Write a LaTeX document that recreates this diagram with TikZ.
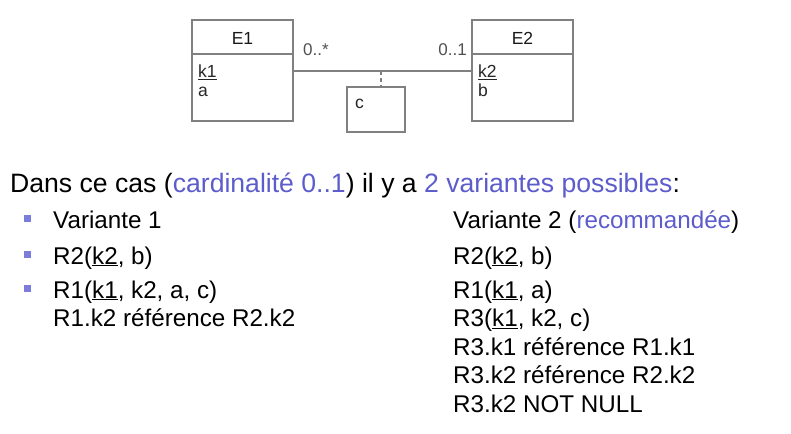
\documentclass[tikz,border=0pt]{standalone}
\usepackage{fontspec}
\setmainfont{Liberation Sans}
\definecolor{accent}{RGB}{92,92,204}
\definecolor{bulletc}{RGB}{124,124,218}
\definecolor{umlgray}{RGB}{128,128,128}
\definecolor{labgray}{RGB}{80,80,80}
\begin{document}
\begin{tikzpicture}[x=1pt,y=-1pt,
  umlbox/.style={draw=umlgray,line width=2pt,rectangle,inner sep=0pt},
  umltxt/.style={inner sep=0pt,anchor=base west,font=\fontsize{17.5}{20}\selectfont,text=black!85},
  cardtxt/.style={inner sep=0pt,font=\fontsize{17}{20}\selectfont,text=labgray},
  bigtxt/.style={inner sep=0pt,anchor=base west,font=\fontsize{26.6}{30}\selectfont},
  itemtxt/.style={inner sep=0pt,anchor=base west,font=\fontsize{24.2}{28}\selectfont},
  bulletsq/.style={fill=bulletc,inner sep=0pt,minimum size=7pt,rectangle}]
\useasboundingbox (0,0) rectangle (791,433);
% --- UML diagram ---
\node[umlbox,minimum width=101pt,minimum height=101pt] (E1) at (242.5,70.5) {};
\node[umlbox,minimum width=101pt,minimum height=101pt] (E2) at (522.5,70.5) {};
\node[umlbox,minimum width=58pt,minimum height=45pt] (C) at (376,109.5) {};
\draw[umlgray,line width=2pt] (E1.west |- 0,54) -- (E1.east |- 0,54);
\draw[umlgray,line width=2pt] (E2.west |- 0,54) -- (E2.east |- 0,54);
\node[inner sep=0pt,anchor=base,font=\fontsize{17.5}{20}\selectfont,text=black!90] (E1t) at (242.5,44.5) {E1};
\node[inner sep=0pt,anchor=base,font=\fontsize{17.5}{20}\selectfont,text=black!90] (E2t) at (522.5,44.5) {E2};
\node[umltxt] (k1) at (198,78) {\underline{k1}};
\node[umltxt] (a) at (198,96) {a};
\node[umltxt] (k2) at (478,78) {\underline{k2}};
\node[umltxt] (b) at (478,96) {b};
\node[umltxt] (c) at (355,109) {c};
\coordinate (mid) at (381,71);
\draw[umlgray,line width=2pt] (E1.east |- mid) -- (E2.west |- mid);
\draw[umlgray,line width=1.5pt,dash pattern=on 4pt off 3pt] (mid) -- (mid |- C.north);
\node[cardtxt,anchor=base west] (m1) at (303,56) {0..*};
\node[cardtxt,anchor=base east] (m2) at (467,56) {0..1};
% --- text ---
\node[bigtxt] (intro) at (10,192) {Dans ce cas (\textcolor{accent}{cardinalité 0..1}) il y a \textcolor{accent}{2 variantes possibles}:};
\node[bulletsq] (b1) at (27,218) {};
\node[bulletsq] (b2) at (27,254) {};
\node[bulletsq] (b3) at (27,288) {};
\node[itemtxt] (v1) at (53,228) {Variante 1};
\node[itemtxt] (l2) at (53,264) {R2(\underline{k2}, b)};
\node[itemtxt] (l3) at (53,298) {R1(\underline{k1}, k2, a, c)};
\node[itemtxt] (l4) at (53,326.5) {R1.k2 référence R2.k2};
\node[itemtxt] (v2) at (453,228) {Variante 2 (\textcolor{accent}{recommandée})};
\node[itemtxt] (r2) at (453,264) {R2(\underline{k2}, b)};
\node[itemtxt] (r1) at (453,298) {R1(\underline{k1}, a)};
\node[itemtxt] (r3) at (453,326.5) {R3(\underline{k1}, k2, c)};
\node[itemtxt] (f1) at (453,355) {R3.k1 référence R1.k1};
\node[itemtxt] (f2) at (453,383.5) {R3.k2 référence R2.k2};
\node[itemtxt] (nn) at (453,412) {R3.k2 NOT NULL};
\end{tikzpicture}
\end{document}
